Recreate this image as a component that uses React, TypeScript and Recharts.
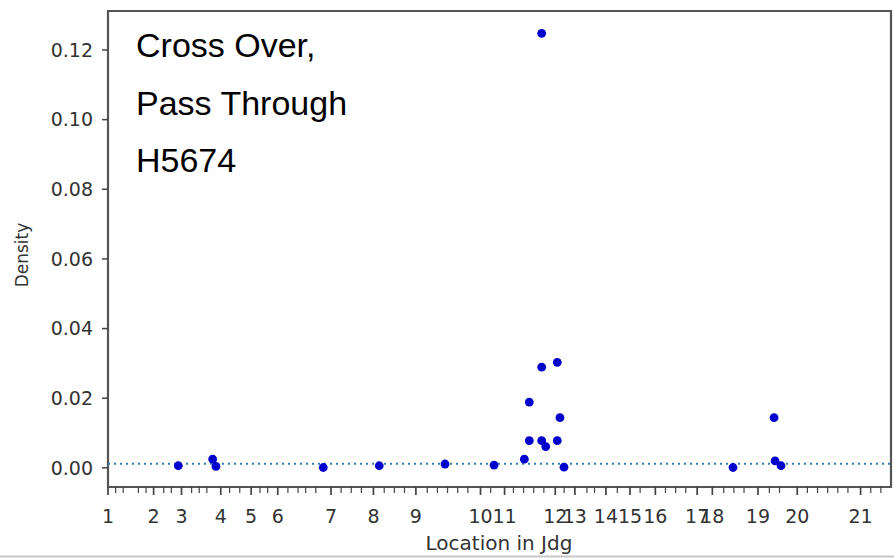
import { ScatterChart, Scatter, XAxis, YAxis, ReferenceLine, ReferenceArea } from "recharts";

// chapter start positions along the book (verse-like units)
const chapterLabels = ["1", "2", "3", "4", "5", "6", "7", "8", "9", "10", "11", "12", "13", "14", "15", "16", "17", "18", "19", "20", "21"];
const chapterStarts = [0, 36, 58, 89, 113, 134, 176, 209.5, 243, 294, 313, 353, 368.5, 393, 412, 432, 465, 477, 513, 544, 594];
const minorTicks = [
  6, 12, 24, 30, 44, 50, 66, 72, 78, 96, 104, 120, 126, 142, 150, 156, 164, 184, 192, 200, 218, 226,
  234, 252, 260, 268, 276, 284, 302, 320, 328, 336, 344, 360, 378, 384, 402, 420, 440, 448, 456, 486,
  494, 502, 522, 530, 552, 560, 568, 576, 584, 602, 610,
];

const locations = [55.5, 82.6, 85.2, 169.9, 214.1, 266, 304.7, 328.6, 332.5, 332.5, 342.3, 342.3, 342.3, 345.5, 354.6, 354.6, 356.7, 359.9, 493.3, 525.7, 526.5, 531.2];
const densities = [0.0006, 0.0025, 0.0004, 0.0001, 0.0006, 0.0011, 0.0008, 0.0025, 0.0189, 0.0078, 0.1248, 0.0289, 0.0078, 0.0061, 0.0303, 0.0078, 0.0144, 0.0002, 0.0001, 0.0144, 0.002, 0.0006];

const baseline = 0.0012;
const yTicks = [0, 0.02, 0.04, 0.06, 0.08, 0.1, 0.12];
const xDomain: [number, number] = [0, 618];
const yDomain: [number, number] = [-0.0055, 0.1312];

const annotation = ["Cross Over,", "Pass Through", "H5674"];

const points = locations.map((x, i) => ({ x, y: densities[i] }));
const labelByStart = new Map(chapterStarts.map((v, i) => [v, chapterLabels[i]]));
const allTicks = [...chapterStarts, ...minorTicks].sort((a, b) => a - b);

const font = "'DejaVu Sans', sans-serif";

function XTick(props: any) {
  const { x, y, payload } = props;
  const label = labelByStart.get(payload.value);
  return (
    <g>
      <line x1={x} x2={x} y1={y} y2={y + (label ? 8 : 6)} stroke="#444" strokeWidth={label ? 1.7 : 1.2} />
      {label && (
        <text x={x} y={y + 36} textAnchor="middle" fontSize={19} fill="#333" fontFamily={font}>
          {label}
        </text>
      )}
    </g>
  );
}

export default function App() {
  return (
    <div style={{ position: "absolute", left: 0, top: 0, width: 894, height: 558, background: "#fff" }}>
      <style>{"body{margin:0}"}</style>
      <ScatterChart width={894} height={558} margin={{ top: 11, right: 3, bottom: 0, left: 0 }}>
        <XAxis
          type="number"
          dataKey="x"
          domain={xDomain}
          ticks={allTicks}
          interval={0}
          allowDataOverflow
          axisLine={false}
          tickLine={false}
          tickSize={0}
          tickMargin={0}
          height={71}
          tick={<XTick />}
        />
        <YAxis
          type="number"
          dataKey="y"
          domain={yDomain}
          ticks={yTicks}
          allowDataOverflow
          width={108}
          axisLine={false}
          tickLine={{ stroke: "#444", strokeWidth: 1.5 }}
          tickSize={6}
          tickMargin={9}
          tickFormatter={(v: number) => v.toFixed(2)}
          tick={{ fontSize: 19, fill: "#333", fontFamily: font }}
        />
        <ReferenceLine y={baseline} stroke="#2e7fb8" strokeWidth={2} strokeDasharray="2 4" />
        <ReferenceArea
          x1={xDomain[0]}
          x2={xDomain[1]}
          y1={yDomain[0]}
          y2={yDomain[1]}
          fill="none"
          fillOpacity={0}
          stroke="#555"
          strokeWidth={2.2}
        />
        <Scatter
          data={points}
          isAnimationActive={false}
          shape={(p: any) => <circle cx={p.cx} cy={p.cy} r={4.4} fill="#0000cc" />}
        />
      </ScatterChart>
      <svg width={894} height={558} style={{ position: "absolute", left: 0, top: 0, pointerEvents: "none" }}>
        {annotation.map((line, i) => (
          <text key={line} x={136} y={57 + i * 57.5} fontSize={34} fontFamily="'Liberation Sans', Arial, sans-serif" fill="#000">
            {line}
          </text>
        ))}
        <text x={22} y={255} transform="rotate(-90 22 255)" textAnchor="middle" dominantBaseline="central" fontSize={17} fill="#333" fontFamily={font}>
          Density
        </text>
        <text x={499} y={550} textAnchor="middle" fontSize={20} fill="#333" fontFamily={font}>
          Location in Jdg
        </text>
        <line x1={0} x2={894} y1={556.5} y2={556.5} stroke="#c8c8c8" strokeWidth={2} />
      </svg>
    </div>
  );
}
